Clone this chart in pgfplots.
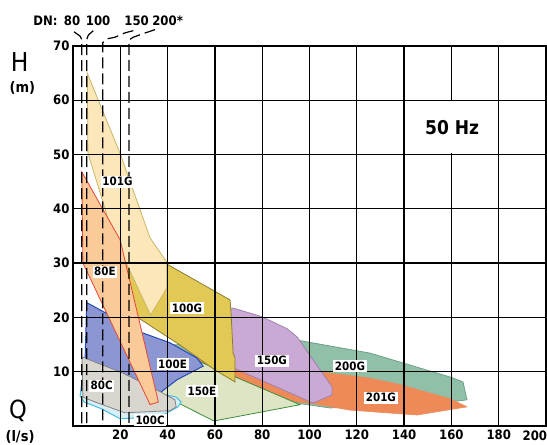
\documentclass[border=0pt]{standalone}
\usepackage{pgfplots}
\pgfplotsset{compat=1.18}
\usepackage{fontspec}
\setmainfont{DejaVu Sans Condensed}
\newfontfamily\cond{DejaVu Sans Condensed}
\definecolor{f101G}{RGB}{252,231,186}\definecolor{d101G}{RGB}{200,182,100}
\definecolor{f80E}{RGB}{250,202,152}\definecolor{d80E}{RGB}{230,70,55}
\definecolor{f100G}{RGB}{226,200,84}\definecolor{d100G}{RGB}{140,125,50}
\definecolor{f150G}{RGB}{202,170,212}\definecolor{d150G}{RGB}{160,128,175}
\definecolor{f200G}{RGB}{145,192,168}\definecolor{d200G}{RGB}{110,160,135}
\definecolor{f201G}{RGB}{238,138,88}
\definecolor{f150E}{RGB}{222,229,196}\definecolor{d150E}{RGB}{60,140,60}
\definecolor{f100E}{RGB}{140,150,210}\definecolor{d100E}{RGB}{35,75,180}
\definecolor{f80C}{RGB}{217,214,208}\definecolor{d80C}{RGB}{130,130,130}
\definecolor{f100C}{RGB}{215,238,244}\definecolor{d100C}{RGB}{70,190,225}
\tikzset{lab/.style={fill=white, inner sep=1.6pt, font=\cond\bfseries\fontsize{11.5}{11.5}\selectfont},
 dn/.style={black, line width=1.2pt, dash pattern=on 11pt off 5pt}}
\begin{document}
\begin{tikzpicture}
\begin{axis}[scale only axis, width=473pt, height=380pt,
 xmin=0, xmax=200, ymin=0, ymax=70,
 xtick={20,40,...,180}, ytick={10,20,...,70},
 grid=major, major grid style={black, line width=1.3pt},
 axis line style={black, line width=1.5pt},
 major tick length=0pt,
 axis on top, clip=false,
 /pgf/number format/assume math mode=true,
 ticklabel style={font=\cond\bfseries\fontsize{13}{13}\selectfont},
]
% 200G
\addplot[fill=f200G, draw=d200G, line width=0.8pt] coordinates {(41.0,14.9) (94.7,15.8) (125.6,13.4) (159.4,9.0) (164.9,8.1) (166.6,4.8) (159.4,4.4) (108.7,3.3) (96.0,4.1) (62.2,9.4)} -- cycle;
% 201G
\addplot[fill=f201G, draw=f201G, line width=0.6pt] coordinates {(49.5,12.5) (105.3,9.9) (125.6,8.8) (138.3,7.6) (159.4,5.0) (166.6,3.5) (145.5,2.0) (117.1,2.9) (101.5,4.1) (94.7,4.4) (59.2,9.9)} -- cycle;
% 150E
\addplot[fill=f150E, draw=d150E, line width=0.8pt] coordinates {(35.9,7.6) (53.7,11.8) (96.0,3.9) (59.6,0.9) (36.8,5.9)} -- cycle;
% 150G
\addplot[fill=f150G, draw=d150G, line width=0.8pt] coordinates {(28.3,19.9) (67.7,21.7) (79.9,20.1) (90.5,17.9) (94.7,16.4) (109.5,7.2) (109.5,5.7) (101.5,4.2) (67.7,10.7) (45.2,16.2)} -- cycle;
% 100G
\addplot[fill=f100G, draw=d100G, line width=0.8pt] coordinates {(15.6,35.9) (38.9,30.0) (66.4,23.2) (66.8,21.0) (67.7,13.4) (68.5,12.5) (68.5,8.1) (60.0,10.3) (45.2,14.9) (28.3,19.7) (23.3,21.0)} -- cycle;
% 101G
\addplot[fill=f101G, draw=d101G, line width=0.8pt] coordinates {(6.05,64.95) (19.9,50.2) (32.6,34.6) (39.6,30.2) (39.7,25.4) (32.8,20.4) (16.9,35.2) (6.3,50.3)} -- cycle;
% 100E
\addplot[fill=f100E, draw=d100E, line width=1pt] coordinates {(5.8,22.7) (29.6,17.1) (41.0,15.3) (52.4,12.5) (55.0,11.0) (44.0,8.5) (36.8,6.1) (5.1,12.2)} -- cycle;
% 100C
\addplot[fill=f100C, draw=d100C, line width=1pt] coordinates {(3.0,5.5) (4.7,4.4) (12.3,3.1) (19.9,1.3) (28.3,1.5) (38.9,2.2) (44.4,3.5) (45.7,4.4) (43.6,5.3) (19.9,7.6) (3.8,8.5)} -- cycle;
% 80C
\addplot[fill=f80C, draw=d80C, line width=0.8pt] coordinates {(3.8,12.7) (20.7,9.8) (36.8,6.3) (43.1,4.8) (43.6,3.5) (41.0,2.8) (22.0,2.4) (9.3,4.4) (4.2,5.3)} -- cycle;
% 80E
\addplot[fill=f80E, draw=d80E, line width=0.8pt] coordinates {(3.7,46.8) (19.9,34.3) (36.1,4.4) (32.6,3.9) (4.2,30.0)} -- cycle;
% DN lines
\draw[dn] (axis cs:0.42,72.6) -- (axis cs:2.96,71.8) -- (axis cs:3.7,71.2) -- (axis cs:3.7,0);
\draw[dn] (axis cs:8.6,72.8) -- (axis cs:6.5,72.0) -- (axis cs:5.8,71.2) -- (axis cs:5.8,0);
\draw[dn] (axis cs:25.5,72.8) -- (axis cs:22.0,72.4) -- (axis cs:17.8,71.6) -- (axis cs:14.5,71.3) -- (axis cs:12.6,70.6) -- (axis cs:12.6,0);
\draw[dn] (axis cs:34.7,73.0) -- (axis cs:30.0,72.3) -- (axis cs:25.5,71.6) -- (axis cs:23.7,71.1) -- (axis cs:23.7,0);
% coordinates for labels
\coordinate (L101G) at (axis cs:18.8,45.0);
\coordinate (L80E) at (axis cs:13.5,28.4);
\coordinate (L100G) at (axis cs:48.2,21.7);
\coordinate (L100E) at (axis cs:42.1,11.4);
\coordinate (L80C) at (axis cs:12.1,7.4);
\coordinate (L150E) at (axis cs:54.5,6.4);
\coordinate (L100C) at (axis cs:32.6,1.1);
\coordinate (L150G) at (axis cs:84.1,12.0);
\coordinate (L200G) at (axis cs:117.1,11.0);
\coordinate (L201G) at (axis cs:130.2,5.2);
\coordinate (HzA) at (axis cs:140.35,50.2);
\coordinate (HzB) at (axis cs:179.65,59.8);
\coordinate (Hz) at (axis cs:160.3,54.9);
\coordinate (X200) at (axis cs:195.3,0);
\coordinate (H) at (axis cs:-22.6,67.0);
\coordinate (Hm) at (axis cs:-21.4,62.3);
\coordinate (Q) at (axis cs:-23.3,2.8);
\coordinate (Qls) at (axis cs:-22.4,-2.0);
\coordinate (DN) at (axis cs:-11.6,74.6);
\coordinate (D80) at (axis cs:-0.4,74.6);
\coordinate (D100) at (axis cs:10.6,74.6);
\coordinate (D150) at (axis cs:26.9,74.6);
\coordinate (D200) at (axis cs:40.0,74.6);
\coordinate (bbsw) at (axis cs:-30.87,-3.50);
\coordinate (bbne) at (axis cs:200.42,78.45);
\end{axis}
\node[lab] at (L101G) {101G};
\node[lab] at (L80E) {80E};
\node[lab] at (L100G) {100G};
\node[lab] at (L100E) {100E};
\node[lab] at (L80C) {80C};
\node[lab] at (L150E) {150E};
\node[lab] at (L100C) {100C};
\node[lab] at (L150G) {150G};
\node[lab] at (L200G) {200G};
\node[lab] at (L201G) {201G};
\fill[white] (HzA) rectangle (HzB);
\node[font=\cond\bfseries\fontsize{19}{19}\selectfont] at (Hz) {50 Hz};
\node[anchor=north, inner sep=0pt, yshift=-5pt, font=\cond\bfseries\fontsize{13}{13}\selectfont] at (X200) {200};
\node[inner sep=0pt, font=\cond\fontsize{26}{26}\selectfont] at (H) {H};
\node[inner sep=0pt, font=\cond\bfseries\fontsize{14.5}{14.5}\selectfont] at (Hm) {(m)};
\node[inner sep=0pt, font=\cond\fontsize{25}{25}\selectfont] at (Q) {Q};
\node[inner sep=0pt, font=\cond\bfseries\fontsize{14.5}{14.5}\selectfont] at (Qls) {(l/s)};
\begin{scope}[every node/.style={font=\cond\bfseries\fontsize{13}{13}\selectfont, inner sep=0pt}]
\node at (DN) {DN:};
\node at (D80) {80};
\node at (D100) {100};
\node at (D150) {150};
\node at (D200) {200*};
\end{scope}
\pgfresetboundingbox
\path[use as bounding box] (bbsw) rectangle (bbne);
\end{tikzpicture}
\end{document}
